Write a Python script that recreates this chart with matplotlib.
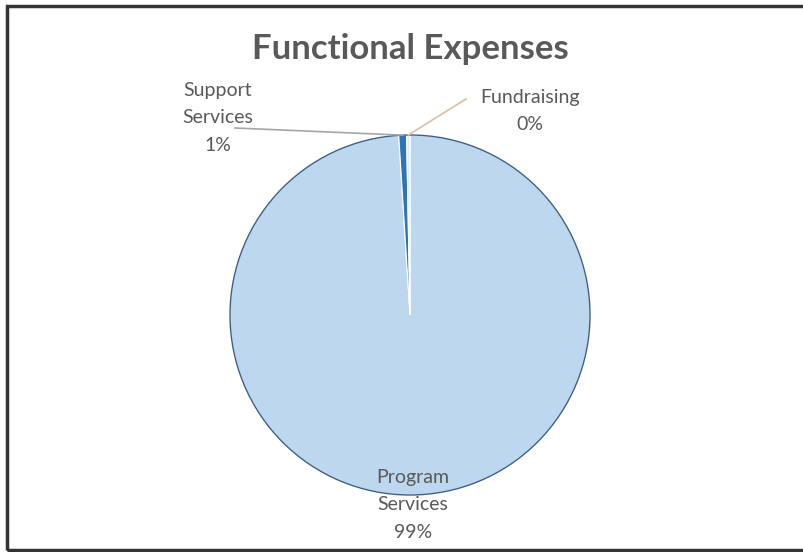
import numpy as np
import matplotlib.pyplot as plt
from matplotlib.patches import Rectangle

categories = ['Program\nServices', 'Support\nServices', 'Fundraising']
values = [99.0, 0.7, 0.3]
colors = ['#BDD7EE', '#2E75B6', '#DEEBF7']

plt.rcParams['font.family'] = ['Lato', 'DejaVu Sans']

fig = plt.figure(figsize=(8.04, 5.52), dpi=100)
ax = fig.add_axes([0, 0, 1, 1])
ax.set_xlim(0, 804)
ax.set_ylim(0, 552)
ax.set_aspect('equal')
ax.axis('off')

# chart frame (right edge is cut off in the original)
ax.add_patch(Rectangle((7, 2), 820, 544, fill=False, edgecolor='#333333', linewidth=2.5))

cx, cy, r = 410, 237, 180
wedges, _ = ax.pie(values, colors=colors, startangle=90, counterclock=False,
                   center=(cx, cy), radius=r,
                   wedgeprops=dict(edgecolor='#FFFFFF', linewidth=0.8))
ax.add_patch(plt.Circle((cx, cy), r, fill=False, edgecolor='#3B5F86', linewidth=1.0))
ax.set_xlim(0, 804)
ax.set_ylim(0, 552)

total = sum(values)
pct = [f'{round(v / total * 100):.0f}%' for v in values]
grey = '#595959'
fs = 14
ls = 1.75

ax.text(410, 503, 'Functional Expenses', ha='center', va='center',
        fontsize=25, fontweight='bold', color=grey)

# Program Services label at the bottom
ax.text(413, 47, categories[0] + '\n' + pct[0], ha='center', va='center',
        fontsize=fs, color=grey, linespacing=ls)

# Support Services label with leader line
ax.text(218, 434, categories[1] + '\n' + pct[1], ha='center', va='center',
        fontsize=fs, color=grey, linespacing=ls)
w = wedges[1]
a = np.deg2rad((w.theta1 + w.theta2) / 2)
ax.plot([235, cx + r * np.cos(a)], [424, cy + r * np.sin(a)], color='#A6A6A6', linewidth=1.2)

# Fundraising label with leader line
ax.text(530, 441, categories[2] + '\n' + pct[2], ha='center', va='center',
        fontsize=fs, color=grey, linespacing=ls)
w = wedges[2]
a = np.deg2rad((w.theta1 + w.theta2) / 2)
ax.plot([466, cx + r * np.cos(a)], [453, cy + r * np.sin(a)], color='#D9BFA6', linewidth=1.2)

fig.savefig('out.png', dpi=100)
